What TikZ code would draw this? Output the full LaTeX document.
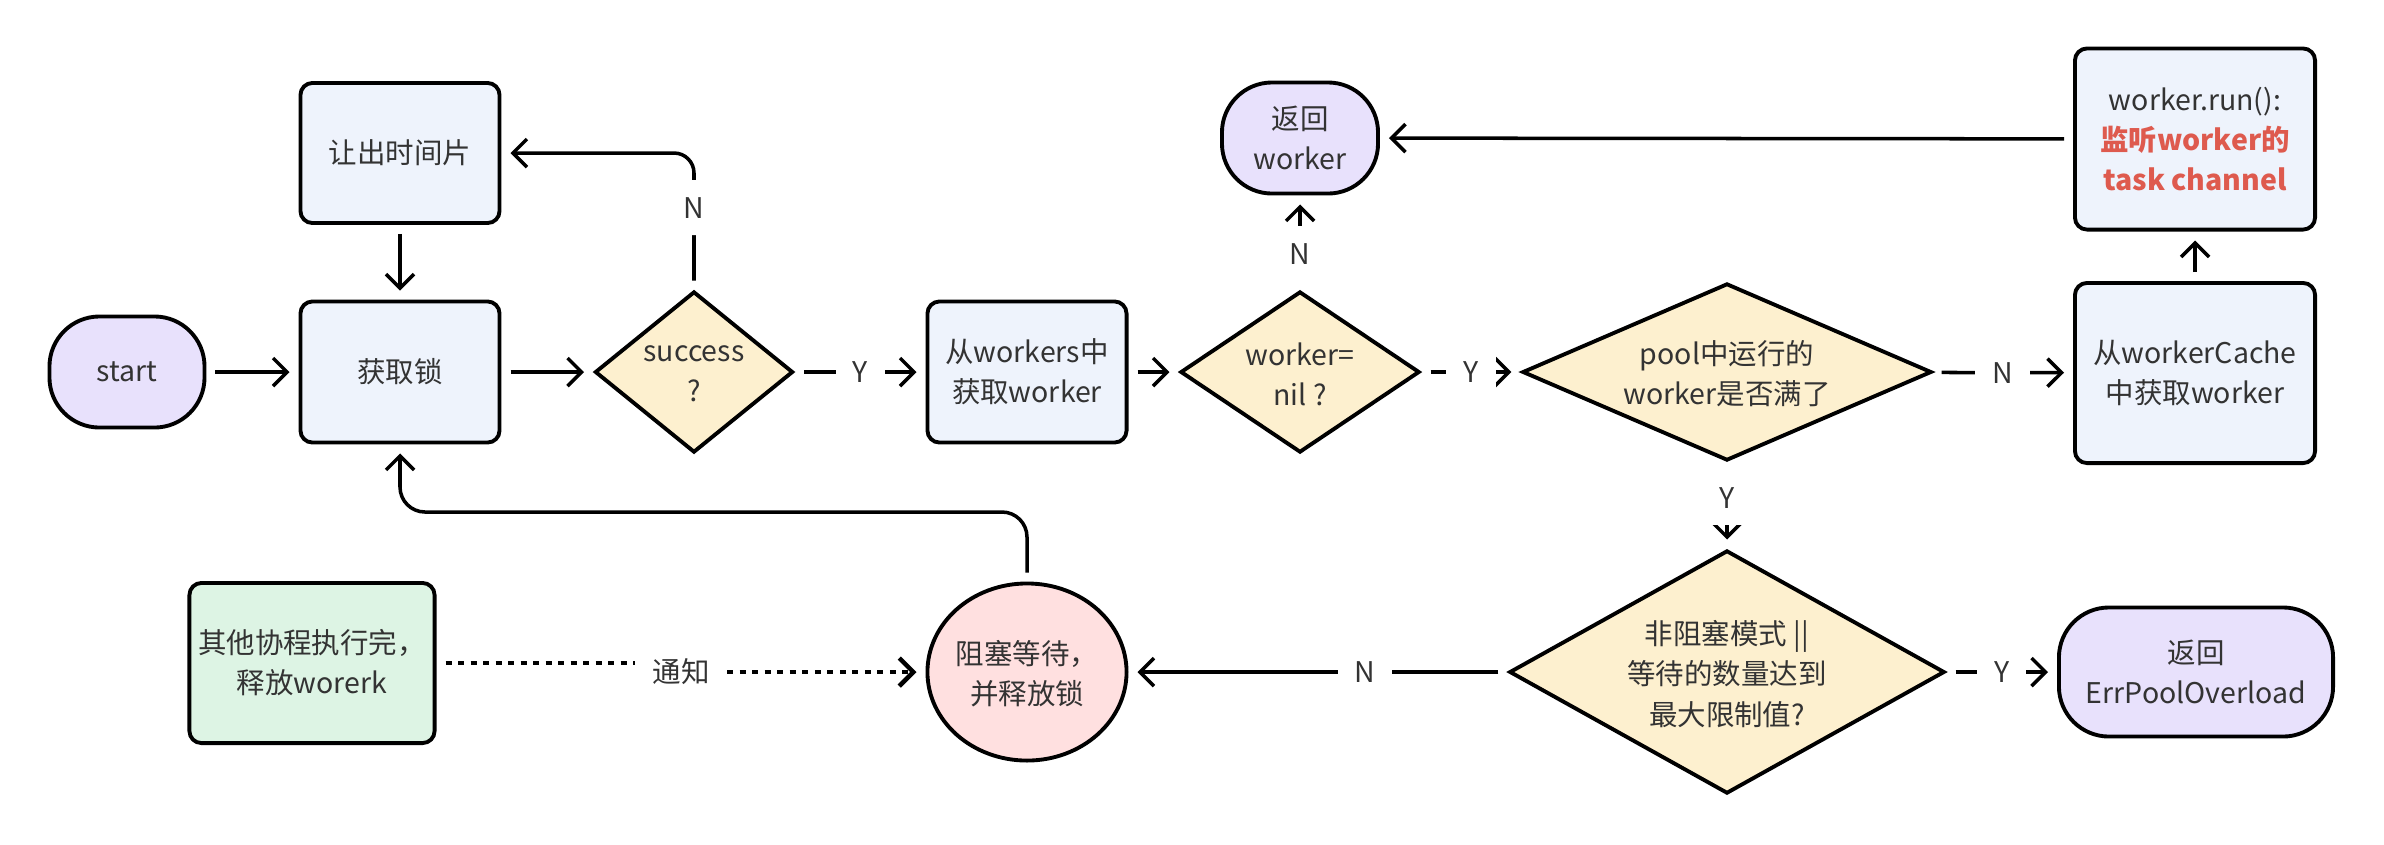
\documentclass[tikz,border=0pt]{standalone}
\usepackage{fontspec}
\setmainfont{Noto Sans CJK SC}
\usetikzlibrary{arrows.meta,shapes.geometric}
\definecolor{cpurple}{HTML}{E8E1FC}
\definecolor{cblue}{HTML}{EEF3FC}
\definecolor{cyellow}{HTML}{FDF0CF}
\definecolor{cgreen}{HTML}{DDF4E4}
\definecolor{cred}{HTML}{FFE0E0}
\definecolor{ctext}{HTML}{333333}
\definecolor{chl}{HTML}{DE5A4E}
\begin{document}
\begin{tikzpicture}[x=0.01cm,y=-0.01cm,
  font=\fontsize{8.1}{11.4}\selectfont, text=ctext,
  base/.style={draw=black, line width=1.1pt, align=center, inner sep=0pt},
  box/.style={base, rectangle, rounded corners=0.12cm, fill=cblue},
  term/.style={base, rectangle, rounded corners=0.5cm, fill=cpurple},
  dia/.style={base, diamond, fill=cyellow},
  conn/.style={line width=1pt, -{Straight Barb[length=1.4mm,width=2.8mm]}, shorten >=0.09cm, shorten <=0.09cm},
  dotline/.style={line width=1.3pt, dash pattern=on 0.06cm off 0.065cm},
  lab/.style={fill=white, inner sep=0.17cm, text=ctext},
  dtxt/.style={label={[align=center, text=ctext, yshift=-0.02cm]center:{#1}}}
]
\fill[white] (0,0) rectangle (2384,844);
\useasboundingbox (0,0) rectangle (2384,844);

% nodes
\node[term, minimum width=1.55cm, minimum height=1.11cm] (start) at (127,372) {start};
\node[box, minimum width=1.99cm, minimum height=1.41cm] (lock) at (400,372) {获取锁};
\node[box, minimum width=1.99cm, minimum height=1.40cm] (yield) at (400,153) {让出时间片};
\node[dia, minimum width=1.98cm, minimum height=1.61cm, dtxt={success\\?}] (succ) at (694,372) {};
\node[box, minimum width=1.99cm, minimum height=1.41cm] (fetch) at (1027,372) {从workers中\\获取worker};
\node[dia, minimum width=2.39cm, minimum height=1.61cm, dtxt={worker=\\nil ?}] (nil) at (1300,372) {};
\node[term, minimum width=1.56cm, minimum height=1.11cm] (retw) at (1300,138) {返回\\worker};
\node[dia, minimum width=4.09cm, minimum height=1.77cm, dtxt={pool中运行的\\worker是否满了}] (pool) at (1727,372) {};
\node[box, minimum width=2.40cm, minimum height=1.80cm] (cache) at (2195,373) {从workerCache\\中获取worker};
\node[box, minimum width=2.40cm, minimum height=1.81cm] (run) at (2195,139)
  {worker.run():\\\textcolor{chl}{\bfseries 监听worker的}\\\textcolor{chl}{\bfseries task channel}};
\node[dia, minimum width=4.35cm, minimum height=2.43cm, dtxt={非阻塞模式 ||\\等待的数量达到\\最大限制值?}] (full) at (1727,672) {};
\node[term, minimum width=2.74cm, minimum height=1.29cm] (err) at (2196,672) {返回\\ErrPoolOverload};
\node[box, fill=cgreen, minimum width=2.45cm, minimum height=1.60cm] (green) at (312,663) {其他协程执行完，\\释放worerk};
\node[base, ellipse, fill=cred, minimum width=1.99cm, minimum height=1.77cm, dtxt={阻塞等待，\\并释放锁}] (ell) at (1027,672) {};
\node[inner sep=0.17cm] (tz) at (681,672) {通知};
\coordinate (backy) at (0,512);

% connectors
\draw[conn] (start) -- (lock);
\draw[conn] (lock) -- (succ);
\draw[conn] (succ) -- node[lab]{Y} (fetch);
\draw[conn, rounded corners=0.2cm] (succ.north) -- node[lab, pos=0.6]{N} (succ.north |- yield.east) -- (yield.east);
\draw[conn] (yield) -- (lock);
\draw[conn] (fetch) -- (nil);
\draw[conn] (nil) -- node[lab]{Y} (pool);
\draw[conn] (nil.north) -- node[lab, pos=0.38]{N} (retw.south);
\draw[conn] (pool) -- node[lab]{N} (cache);
\draw[conn] (cache) -- (run);
\draw[conn] (run) -- (retw);
\draw[conn] (pool.south) -- node[lab, pos=0.41]{Y} (full.north);
\draw[conn] (full) -- node[lab, pos=0.376]{N} (ell);
\draw[conn] (full) -- node[lab]{Y} (err);
\draw[conn, rounded corners=0.25cm] (ell.north) -- (ell.north |- backy) -- (lock.south |- backy) -- (lock.south);
\draw[dotline, shorten <=0.09cm] (green.east) -- (green.east -| tz.west);
\draw[dotline, -{Straight Barb[length=1.4mm,width=2.8mm]}, shorten >=0.09cm] (tz.east) -- (ell.west);
\end{tikzpicture}
\end{document}
